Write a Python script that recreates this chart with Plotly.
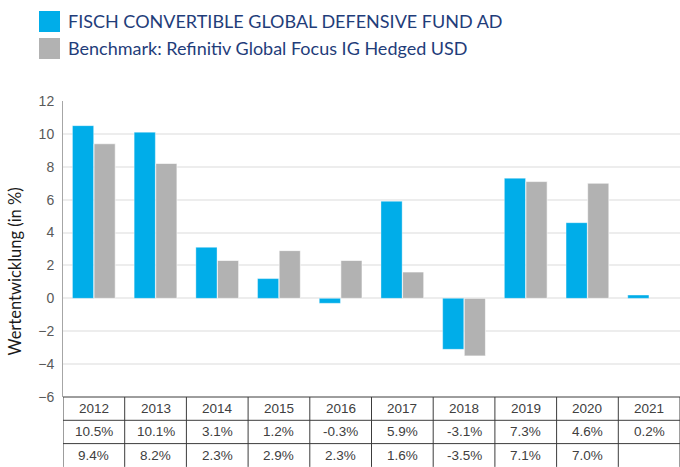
import plotly.graph_objects as go

# ---- data ----
years = ["2012", "2013", "2014", "2015", "2016", "2017", "2018", "2019", "2020", "2021"]
fund_values = [10.5, 10.1, 3.1, 1.2, -0.3, 5.9, -3.1, 7.3, 4.6, 0.2]
bench_values = [9.4, 8.2, 2.3, 2.9, 2.3, 1.6, -3.5, 7.1, 7.0, None]
fund_name = "FISCH CONVERTIBLE GLOBAL DEFENSIVE FUND AD"
bench_name = "Benchmark: Refinitiv Global Focus IG Hedged USD"
y_title = "Wertentwicklung (in %)"

# ---- style ----
W, H = 680, 467
ML, MR, MT, MB = 63, 0, 101, 70
BLUE = "#00ADE9"
GRAY = "#B2B2B2"
NAVY = "#1F3D7A"
BORDER = "#3C3C3C"
PW = W - ML - MR
PH = H - MT - MB
ROW_PX = 23.3
row_h = ROW_PX / PH
col_px = PW / len(years)

def px_x(x):  # pixel -> paper x
    return (x - ML) / PW

def px_y(y):  # pixel -> paper y
    return (H - MB - y) / PH

fig = go.Figure()
fig.add_trace(go.Bar(x=years, y=fund_values, name=fund_name,
                     marker=dict(color=BLUE, line=dict(color="rgba(255,255,255,0.35)", width=1))))
fig.add_trace(go.Bar(x=years, y=bench_values, name=bench_name,
                     marker=dict(color=GRAY, line=dict(color="rgba(255,255,255,0.6)", width=1))))

shapes = []
annotations = []

# legend (custom, large swatches)
for i, (name, col) in enumerate([(fund_name, BLUE), (bench_name, GRAY)]):
    yc = 21.5 + 27 * i
    shapes.append(dict(type="rect", xref="paper", yref="paper",
                       x0=px_x(39), x1=px_x(60), y0=px_y(yc - 10.5), y1=px_y(yc + 10.5),
                       fillcolor=col, line=dict(width=0)))
    annotations.append(dict(xref="paper", yref="paper", x=px_x(66), y=px_y(yc),
                            text=name, showarrow=False, xanchor="left", yanchor="middle",
                            font=dict(family="Lato", size=18, color=NAVY)))

# y title
annotations.append(dict(xref="paper", yref="paper", x=px_x(14), y=px_y(271.5),
                        text=y_title, showarrow=False, textangle=-90,
                        xanchor="center", yanchor="middle",
                        font=dict(family="Lato", size=16.5, color="#1a1a1a")))

# data table below the plot
n = len(years)
sw_w = 23.5 / col_px
# swatch cells
for r, col in enumerate([BLUE, GRAY]):
    shapes.append(dict(type="rect", xref="x", yref="paper",
                       x0=-0.5 - sw_w, x1=-0.5,
                       y0=-(r + 1) * row_h - (0.5 / PH if r == 0 else 0),
                       y1=-(r + 2) * row_h,
                       fillcolor=col, line=dict(width=0), layer="above"))
# horizontal borders
for r in range(3):
    shapes.append(dict(type="line", xref="x", yref="paper",
                       x0=-0.5, x1=n - 0.5, y0=-r * row_h, y1=-r * row_h,
                       line=dict(color=BORDER, width=1)))
# vertical borders
for k in range(n + 1):
    shapes.append(dict(type="line", xref="x", yref="paper",
                       x0=k - 0.5, x1=k - 0.5, y0=0, y1=-3 * row_h,
                       line=dict(color=BORDER, width=1)))

def fmt(v):
    return "" if v is None else f"{v:.1f}%"

rows = [years, [fmt(v) for v in fund_values], [fmt(v) for v in bench_values]]
for r, row in enumerate(rows):
    for i, txt in enumerate(row):
        if txt:
            annotations.append(dict(xref="x", yref="paper", x=i, y=-(r + 0.5) * row_h,
                                    text=txt, showarrow=False, xanchor="center", yanchor="middle",
                                    font=dict(family="Liberation Sans", size=13.5, color="#404040")))

fig.update_layout(
    width=W, height=H,
    margin=dict(l=ML, r=MR, t=MT, b=MB, pad=0),
    paper_bgcolor="white", plot_bgcolor="white",
    showlegend=False,
    barmode="group", bargap=0.3, bargroupgap=0.02,
    shapes=shapes, annotations=annotations,
    xaxis=dict(type="category", range=[-0.5, n - 0.5], showticklabels=False,
               showgrid=False, zeroline=False, showline=False, ticks=""),
    yaxis=dict(range=[-6, 12], dtick=2, tick0=0, showgrid=True, gridcolor="#EDEDED", gridwidth=2,
               zeroline=True, zerolinecolor="#EDEDED", zerolinewidth=2,
               showline=True, linecolor="#A6A6A6", linewidth=1, ticks="",
               ticklabelstandoff=5,
               tickfont=dict(family="Liberation Sans", size=14, color="#595959")),
    font=dict(family="Liberation Sans"),
)

fig.write_html("out.html", config={"displayModeBar": False},
               post_script="document.body.style.margin='0';document.body.style.overflow='hidden';")
